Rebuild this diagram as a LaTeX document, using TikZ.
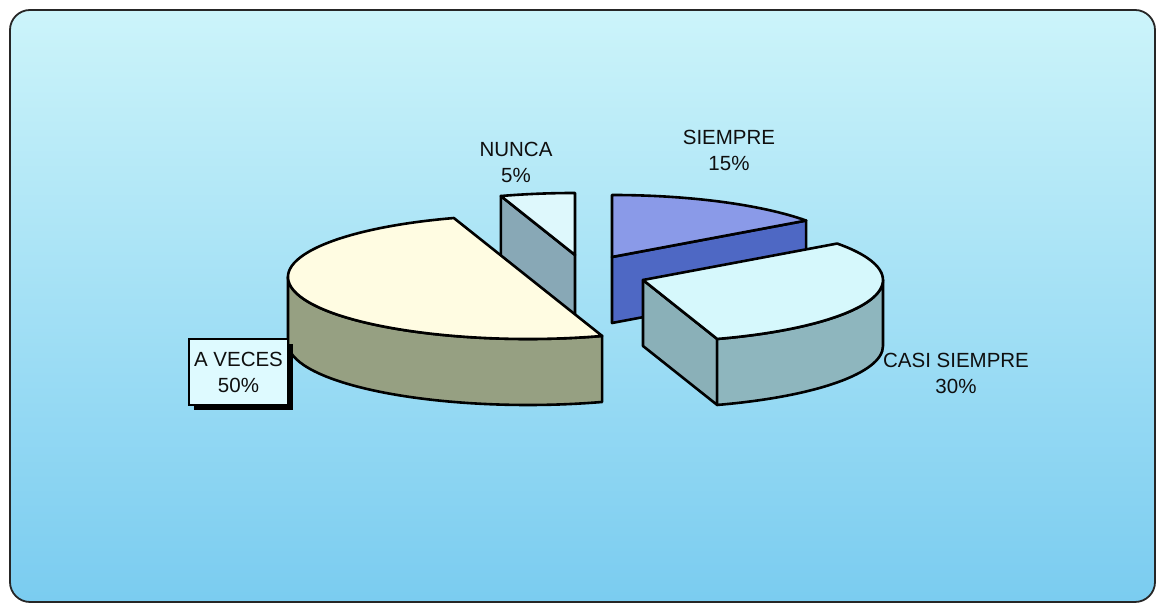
\documentclass[tikz,border=0pt]{standalone}
\usepackage{fontspec}
\setmainfont{Liberation Sans}
\usetikzlibrary{calc}
\definecolor{bgtop}{RGB}{204,244,250}
\definecolor{bgbot}{RGB}{122,204,240}
\definecolor{avtop}{RGB}{255,252,226}
\definecolor{avside}{RGB}{150,160,130}
\definecolor{nutop}{RGB}{222,248,252}
\definecolor{nuside}{RGB}{136,168,182}
\definecolor{sitop}{RGB}{138,154,232}
\definecolor{siside}{RGB}{78,104,196}
\definecolor{cstop}{RGB}{214,248,252}
\definecolor{csside}{RGB}{138,176,184}
\definecolor{csarc}{RGB}{142,182,190}
\definecolor{labtext}{RGB}{15,15,15}
\definecolor{boxfill}{RGB}{222,250,255}
\tikzset{
  face/.style={draw=black, line width=2.6pt, line join=round},
  lab/.style={font=\fontsize{20.5}{26}\selectfont, text=labtext, align=center, inner sep=0pt},
}
\begin{document}
\begin{tikzpicture}[x=1pt,y=1pt]
\useasboundingbox (0,0) rectangle (1157,604);
\fill[white] (0,0) rectangle (1157,604);
% background panel
\shade[top color=bgtop, bottom color=bgbot, rounded corners=20pt]
  (10,2) rectangle (1155,594);
\draw[line width=1.8pt, rounded corners=20pt, draw=black!85]
  (10,2) rectangle (1155,594);

% slice centres
\coordinate (cNU) at (575,349);
\coordinate (cSI) at (612,347);
\coordinate (cAV) at (528,327);
\coordinate (cCS) at (643,324);

% NUNCA 90..108
\filldraw[face, fill=nuside] (cNU) -- ($(cNU)+(108:240pt and 62pt)$) -- ++(0,-66) -- ($(cNU)+(0,-66)$) -- cycle;
\filldraw[face, fill=nutop] (cNU) -- ($(cNU)+(90:240pt and 62pt)$)
  arc[start angle=90, end angle=108, x radius=240pt, y radius=62pt] -- cycle;

% SIEMPRE 36..90
\filldraw[face, fill=siside] (cSI) -- ($(cSI)+(36:240pt and 62pt)$) -- ++(0,-66) -- ($(cSI)+(0,-66)$) -- cycle;
\filldraw[face, fill=sitop] (cSI) -- ($(cSI)+(36:240pt and 62pt)$)
  arc[start angle=36, end angle=90, x radius=240pt, y radius=62pt] -- cycle;

% A VECES 108..288
\filldraw[face, fill=avside] ($(cAV)+(180:240pt and 62pt)$)
  arc[start angle=180, end angle=288, x radius=240pt, y radius=62pt] -- ++(0,-66)
  arc[start angle=288, end angle=180, x radius=240pt, y radius=62pt] -- cycle;
\filldraw[face, fill=avtop] ($(cAV)+(108:240pt and 62pt)$)
  arc[start angle=108, end angle=288, x radius=240pt, y radius=62pt] -- cycle;

% CASI SIEMPRE -72..36
\filldraw[face, fill=csside] (cCS) -- ($(cCS)+(-72:240pt and 62pt)$) -- ++(0,-66) -- ($(cCS)+(0,-66)$) -- cycle;
\filldraw[face, fill=csarc] ($(cCS)+(-72:240pt and 62pt)$)
  arc[start angle=-72, end angle=0, x radius=240pt, y radius=62pt] -- ++(0,-66)
  arc[start angle=0, end angle=-72, x radius=240pt, y radius=62pt] -- cycle;
\filldraw[face, fill=cstop] (cCS) -- ($(cCS)+(-72:240pt and 62pt)$)
  arc[start angle=-72, end angle=36, x radius=240pt, y radius=62pt] -- cycle;

% labels
\node[lab] (lNU) at (516,442) {NUNCA\\5\%};
\node[lab] (lSI) at (729,454) {SIEMPRE\\15\%};
\node[lab] (lCS) at (956,231) {CASI SIEMPRE\\30\%};
\fill[black] (194,194) rectangle (293,260);
\node[lab, draw=black, line width=1.5pt, fill=boxfill, minimum width=99pt, minimum height=66pt] (lAV) at (238.5,232) {A VECES\\50\%};
\end{tikzpicture}
\end{document}
